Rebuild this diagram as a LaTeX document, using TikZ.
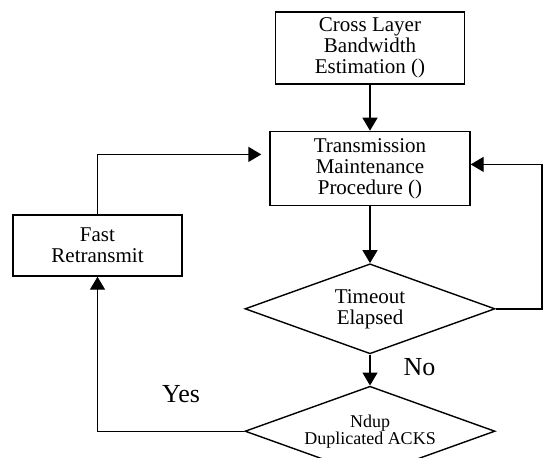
\documentclass[tikz,border=0pt]{standalone}
\usepackage{fontspec}
\setmainfont{Liberation Serif}
\usetikzlibrary{positioning,shapes.geometric,arrows.meta}

\begin{document}
\begin{tikzpicture}[>={Triangle[width=7.5pt,length=6.5pt]}, line width=0.7pt,
  every node/.style={align=center, font=\fontsize{10.5}{10.5}\selectfont},
  box/.style={draw, rectangle, inner sep=0pt},
  test/.style={draw, diamond, aspect=2.78, inner sep=0pt, minimum width=125pt, minimum height=45pt},
  answer/.style={font=\fontsize{13}{13}\selectfont}]
\clip (0,0) rectangle (272pt,-228.5pt);
\node (cross) [box, minimum width=94.5pt, minimum height=36pt] at (185pt,-24pt) {Cross Layer\\Bandwidth\\Estimation ()};
\node (trans) [box, below=23pt of cross, minimum width=100pt, minimum height=37pt] {Transmission\\Maintenance\\Procedure ()};
\node (timeout) [test, below=28.5pt of trans] {Timeout\\Elapsed};
\node (ndup) [test, below=15.5pt of timeout, font=\fontsize{9}{8.5}\selectfont] {Ndup\\Duplicated ACKS};
\node (fast) [box, minimum width=84.5pt, minimum height=30.5pt] at (48.75pt,-122.75pt) {Fast\\Retransmit};
\node (no) [answer] at (209.75pt,-183.75pt) {No};
\node (yes) [answer] at (90.5pt,-197pt) {Yes};
\coordinate (loop) at (271pt,0);

\draw[->] (cross) -- (trans);
\draw[->] (trans) -- (timeout);
\draw[->] (timeout) -- (ndup);
\draw[->] (timeout.east) -- (timeout.east -| loop) |- ([yshift=2pt]trans.east);
\draw[->] (ndup.west) -| (fast.south);
\draw[->, shorten >=4pt] (fast.north) |- ([yshift=7pt]trans.west);
\end{tikzpicture}
\end{document}
